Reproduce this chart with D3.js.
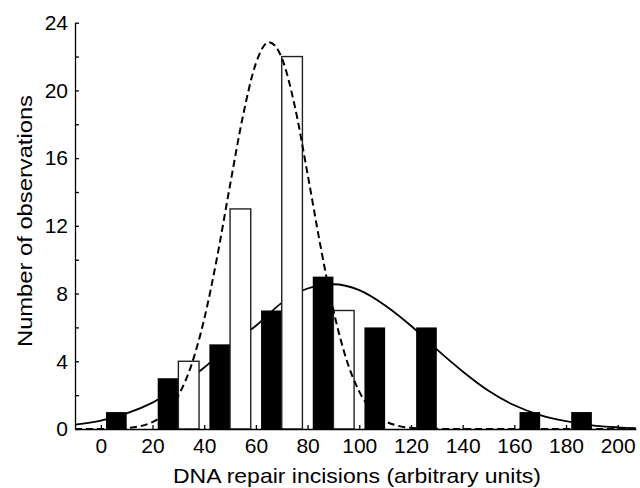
<!DOCTYPE html>
<html>
<head>
<meta charset="utf-8">
<script src="https://cdn.jsdelivr.net/npm/d3@7"></script>
<style>
  body { margin: 0; background: #fff; }
  text { font-family: "Liberation Sans", Arial, sans-serif; fill: #000; }
</style>
</head>
<body>
<svg width="640" height="488"></svg>
<script>
// bins of 20 units, labelled by their centre
var binCentres = [10, 30, 50, 70, 90, 110, 130, 150, 170, 190];
var blackCounts = [1, 3, 5, 7, 9, 6, 6, 0, 1, 1];
var whiteCounts = [0, 4, 13, 22, 7, 0, 0, 0, 0, 0];

// fitted curves
var solidX = [-10, 0, 10, 20, 30, 40, 50, 60, 70, 80, 90, 100, 110, 120, 130, 140, 150, 160, 170, 180, 190, 200, 207];
var solidY = [0.26, 0.5, 0.92, 1.56, 2.46, 3.63, 4.97, 6.1, 7.45, 8.3, 8.55, 8.2, 7.3, 6.1, 4.7, 3.4, 2.26, 1.4, 0.82, 0.46, 0.22, 0.1, 0.05];

var dashX = [-10, 0, 5, 10, 15, 20, 25, 30, 35, 40, 45, 50, 55, 60, 65, 70, 75, 80, 85, 90, 95, 100, 105, 110, 115, 120, 125, 130, 140, 160, 180, 207];
var dashY = [0, 0.005, 0.02, 0.06, 0.16, 0.41, 0.94, 1.98, 3.76, 6.49, 10.16, 14.41, 18.5, 21.6, 22.85, 21.93, 19.1, 15.06, 10.8, 7.01, 4.12, 2.21, 1.07, 0.47, 0.19, 0.07, 0.02, 0.01, 0, 0, 0, 0];

var xTicks = [0, 20, 40, 60, 80, 100, 120, 140, 160, 180, 200];
var yTicks = [0, 4, 8, 12, 16, 20, 24];
var yMinorTicks = [0, 2, 4, 6, 8, 10, 12, 14, 16, 18, 20, 22, 24];

var svg = d3.select("svg");

var x = d3.scaleLinear().domain([-10, 207]).range([75, 635.8]);
var y = d3.scaleLinear().domain([0, 24]).range([429, 22.7]);

var barW = 8; // units

// solid curve sits behind the bars
var line = d3.line()
    .x(function (d) { return x(d[0]); })
    .y(function (d) { return y(d[1]); })
    .curve(d3.curveMonotoneX);

svg.append("path")
    .datum(d3.zip(solidX, solidY))
    .attr("d", line)
    .attr("fill", "none")
    .attr("stroke", "#000")
    .attr("stroke-width", 1.8);

svg.selectAll(".black")
    .data(d3.zip(binCentres, blackCounts).filter(function (d) { return d[1] > 0; }))
    .enter().append("rect")
    .attr("x", function (d) { return x(d[0] - barW); })
    .attr("y", function (d) { return y(d[1]); })
    .attr("width", function (d) { return x(d[0]) - x(d[0] - barW); })
    .attr("height", function (d) { return y(0) - y(d[1]); })
    .attr("fill", "#000");

svg.selectAll(".white")
    .data(d3.zip(binCentres, whiteCounts).filter(function (d) { return d[1] > 0; }))
    .enter().append("rect")
    .attr("x", function (d) { return x(d[0]); })
    .attr("y", function (d) { return y(d[1]); })
    .attr("width", function (d) { return x(d[0] + barW) - x(d[0]); })
    .attr("height", function (d) { return y(0) - y(d[1]); })
    .attr("fill", "#fff")
    .attr("stroke", "#222")
    .attr("stroke-width", 1.4);

svg.append("path")
    .datum(d3.zip(dashX, dashY))
    .attr("d", line)
    .attr("fill", "none")
    .attr("stroke", "#000")
    .attr("stroke-width", 2)
    .attr("stroke-dasharray", "7,4");

// axes, ticks point inward
var xAxis = svg.append("g")
    .attr("transform", "translate(0," + y(0) + ")")
    .call(d3.axisBottom(x).tickValues(xTicks).tickSizeInner(-4).tickSizeOuter(0));

var yAxis = svg.append("g")
    .attr("transform", "translate(" + x(-10) + ",0)")
    .call(d3.axisLeft(y).tickValues(yMinorTicks).tickSizeInner(-4).tickSizeOuter(0).tickPadding(7)
        .tickFormat(function (d) { return yTicks.indexOf(d) >= 0 ? d : ""; }));

svg.selectAll(".domain").attr("stroke", "#000").attr("stroke-width", 1.3);
svg.selectAll(".tick line").attr("stroke", "#000").attr("stroke-width", 1.3);
svg.selectAll(".tick text")
    .style("font-family", "'Liberation Sans', Arial, sans-serif")
    .style("font-size", "21px")
    .attr("fill", "#000");
xAxis.selectAll(".tick text").attr("dy", 0).attr("y", 24);

svg.append("text")
    .attr("x", 357)
    .attr("y", 483)
    .attr("text-anchor", "middle")
    .style("font-size", "21px")
    .attr("textLength", 368)
    .attr("lengthAdjust", "spacingAndGlyphs")
    .text("DNA repair incisions (arbitrary units)");

svg.append("text")
    .attr("transform", "translate(32,221) rotate(-90)")
    .attr("text-anchor", "middle")
    .style("font-size", "21px")
    .attr("textLength", 252)
    .attr("lengthAdjust", "spacingAndGlyphs")
    .text("Number of observations");
</script>
</body>
</html>
